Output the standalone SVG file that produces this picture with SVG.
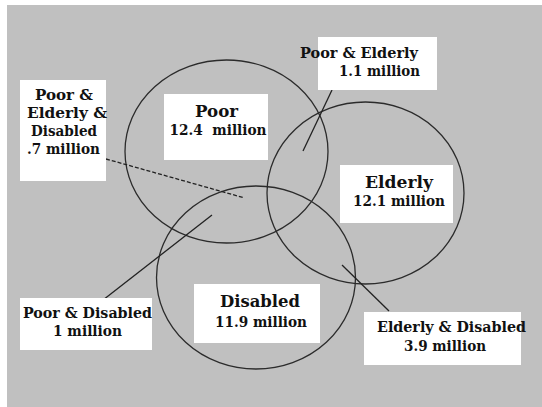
<svg xmlns="http://www.w3.org/2000/svg" width="542" height="407" viewBox="0 0 542 407">
<style>
.bg{fill:#c0c0c0}
.circ{fill:none;stroke:#2b2b2b;stroke-width:1.3}
.box{fill:#ffffff}
.t{font-family:'DejaVu Serif','Liberation Serif',serif;font-weight:bold;fill:#111;text-anchor:middle}
.s{font-size:14.5px}
.l{font-size:17.5px}
.conn{stroke:#222;stroke-width:1.3;fill:none}
.dash{stroke-dasharray:4 2}
</style>
<rect x="0" y="0" width="542" height="407" fill="#ffffff"/>
<rect class="bg" x="7" y="5" width="535" height="402"/>
<g id="circles">
<ellipse id="poor-circle" class="circ" cx="226.5" cy="151.5" rx="101.5" ry="91.5"/>
<ellipse id="elderly-circle" class="circ" cx="365.5" cy="193" rx="98.5" ry="91"/>
<ellipse id="disabled-circle" class="circ" cx="256" cy="277.5" rx="99.5" ry="91.5"/>
</g>
<g id="connectors">
<line class="conn dash" x1="106" y1="159" x2="243" y2="197.5"/>
<line class="conn" x1="332" y1="90" x2="303" y2="151"/>
<line class="conn" x1="103" y1="300" x2="212" y2="215"/>
<line class="conn" x1="342" y1="265" x2="389" y2="311"/>
</g>
<g id="node-poor-elderly-disabled">
<rect class="box" x="20" y="80" width="86" height="101"/>
<text class="t s" x="64" y="100" textLength="58" lengthAdjust="spacingAndGlyphs">Poor &amp;</text>
<text class="t s" x="67" y="118" textLength="80" lengthAdjust="spacingAndGlyphs">Elderly &amp;</text>
<text class="t s" x="64" y="136" textLength="66" lengthAdjust="spacingAndGlyphs">Disabled</text>
<text class="t s" x="63.5" y="154" textLength="73" lengthAdjust="spacingAndGlyphs">.7 million</text>
</g>
<g id="node-poor">
<rect class="box" x="164" y="94" width="104" height="66"/>
<text class="t l" x="216.5" y="117" textLength="43" lengthAdjust="spacingAndGlyphs">Poor</text>
<text class="t s" x="218" y="135" textLength="97" lengthAdjust="spacingAndGlyphs" xml:space="preserve">12.4  million</text>
</g>
<g id="node-poor-elderly">
<rect class="box" x="318" y="37" width="119" height="53"/>
<text class="t s" x="359" y="58" textLength="118" lengthAdjust="spacingAndGlyphs">Poor &amp; Elderly</text>
<text class="t s" x="379.5" y="76" textLength="81" lengthAdjust="spacingAndGlyphs">1.1 million</text>
</g>
<g id="node-elderly">
<rect class="box" x="340" y="165" width="113" height="58"/>
<text class="t l" x="399" y="188" textLength="68" lengthAdjust="spacingAndGlyphs">Elderly</text>
<text class="t s" x="399" y="206" textLength="92" lengthAdjust="spacingAndGlyphs">12.1 million</text>
</g>
<g id="node-disabled">
<rect class="box" x="194" y="284" width="126" height="59"/>
<text class="t l" x="260" y="307" textLength="80" lengthAdjust="spacingAndGlyphs">Disabled</text>
<text class="t s" x="261" y="327" textLength="92" lengthAdjust="spacingAndGlyphs">11.9 million</text>
</g>
<g id="node-poor-disabled">
<rect class="box" x="20" y="298" width="132" height="52"/>
<text class="t s" x="87.5" y="318" textLength="129" lengthAdjust="spacingAndGlyphs">Poor &amp; Disabled</text>
<text class="t s" x="87.5" y="336" textLength="69" lengthAdjust="spacingAndGlyphs">1 million</text>
</g>
<g id="node-elderly-disabled">
<rect class="box" x="364" y="312" width="157" height="53"/>
<text class="t s" x="451.5" y="332" textLength="149" lengthAdjust="spacingAndGlyphs">Elderly &amp; Disabled</text>
<text class="t s" x="445" y="351" textLength="82" lengthAdjust="spacingAndGlyphs">3.9 million</text>
</g>
</svg>
